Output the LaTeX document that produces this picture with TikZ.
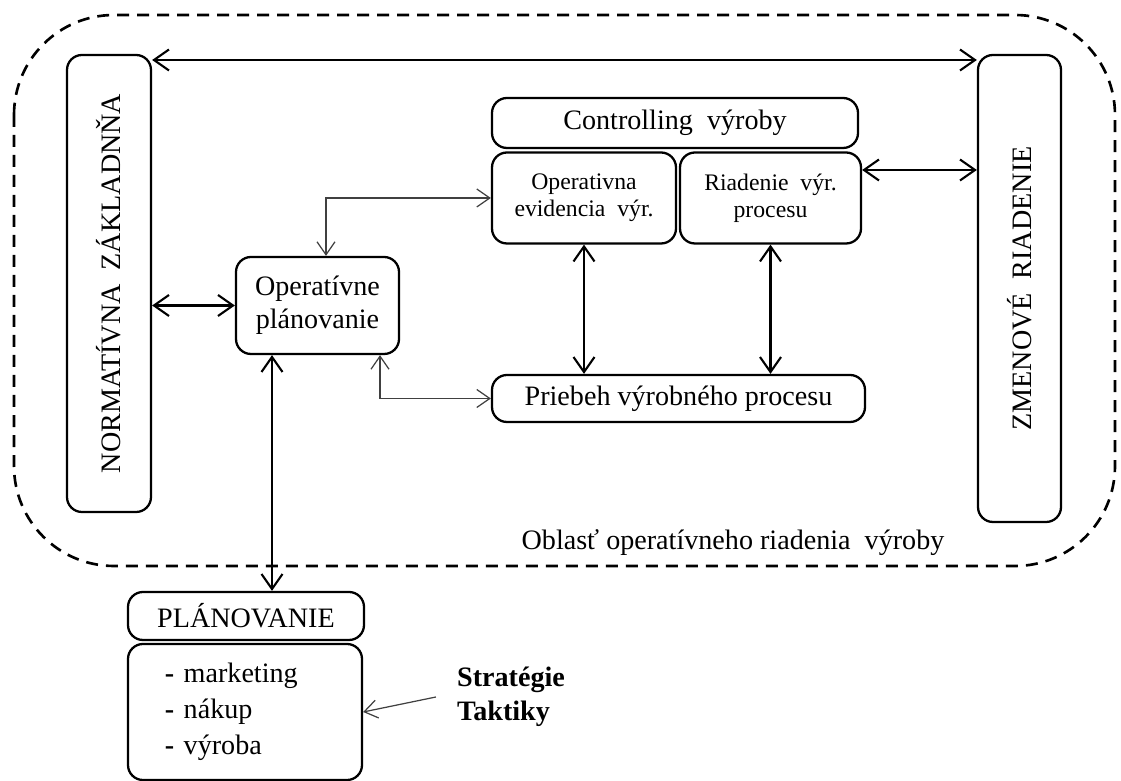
\documentclass[tikz,border=0pt]{standalone}
\usepackage{fontspec}
\setmainfont{Liberation Serif}
\usetikzlibrary{arrows.meta}

\begin{document}
\begin{tikzpicture}[x=0.2mm,y=-0.2mm,
  blok/.style={draw,line width=1.3pt,rounded corners=3mm,align=center,inner sep=0pt,font=\fontsize{16}{19}\selectfont},
  dbl/.style={{Straight Barb[length=3mm,width=4.2mm]}-{Straight Barb[length=3mm,width=4.2mm]},line width=1.2pt},
  tenka/.style={{Straight Barb[length=2.6mm,width=3.6mm]}-{Straight Barb[length=2.6mm,width=3.6mm]},line width=0.7pt,black!75}]
\useasboundingbox (0,0) rectangle (1121,781);
% oblast
\draw[line width=1.5pt,dash pattern=on 2.4mm off 1.6mm,rounded corners=20mm] (14,15) rectangle (1115,566);
\node[font=\fontsize{16}{19}\selectfont] (oblast) at (733,543) {Oblasť operatívneho riadenia\ \ výroby};
% bloky
\node[blok,minimum width=16.8mm,minimum height=91.4mm] (norm) at (109,283.5) {};
\node[rotate=90,font=\fontsize{16}{19}\selectfont] (normtxt) at (norm.center) {NORMATÍVNA\ \ ZÁKLADNŇA};
\node[blok,minimum width=16.6mm,minimum height=93.4mm] (zmen) at (1019.5,288.5) {};
\node[rotate=90,font=\fontsize{16}{19}\selectfont] (zmentxt) at (zmen.center) {ZMENOVÉ\ \ RIADENIE};
\node[blok,minimum width=73.2mm,minimum height=10mm] (ctrl) at (675,123) {Controlling\ \ výroby};
\node[blok,minimum width=36.8mm,minimum height=18.2mm,font=\fontsize{13.5}{15.5}\selectfont] (evid) at (584,198) {Operativna\\evidencia\ \ výr.};
\node[blok,minimum width=36.2mm,minimum height=18.2mm,font=\fontsize{13.5}{15.5}\selectfont] (riad) at (770.5,198) {Riadenie\ \ výr.\\procesu};
\node[blok,minimum width=32.6mm,minimum height=19.4mm,font=\fontsize{16}{18.7}\selectfont] (oplan) at (317.5,305.5) {Operatívne\\plánovanie};
\node[blok,minimum width=74.6mm,minimum height=9.4mm] (prieb) at (678.5,398.5) {Priebeh výrobného procesu};
\node[blok,minimum width=47.2mm,minimum height=9.6mm] (plan) at (246,616) {PLÁNOVANIE};
\node[blok,minimum width=46.8mm,minimum height=27.2mm,align=left,text width=32mm,inner xsep=7.4mm,font=\fontsize{16}{20.4}\selectfont] (zoznam) at (245,712) {\textbf{-} marketing\\\textbf{-} nákup\\\textbf{-} výroba};
\node[font=\bfseries\fontsize{16}{19.5}\selectfont,align=left] (strat) at (511,697) {Stratégie\\Taktiky};
% spojenia
\draw[dbl] (norm.east |- 0,60) -- (zmen.west |- 0,60);
\draw[dbl] (riad.east |- 0,170) -- (zmen.west |- 0,170);
\draw[dbl] (norm.east |- oplan.west) -- (oplan.west);
\draw[dbl] (evid.south) -- (evid.south |- prieb.north);
\draw[dbl] (riad.south) -- (riad.south |- prieb.north);
\draw[dbl] ([xshift=-9.1mm]oplan.south) -- ([xshift=-9.1mm]oplan.south |- plan.north);
\draw[tenka] ([xshift=1.7mm]oplan.north) |- (evid.west);
\draw[tenka] ([xshift=12.5mm]oplan.south) |- (prieb.west);
\draw[tenka,{Straight Barb[length=2.6mm,width=3.6mm]}-] (zoznam.east) -- ([xshift=-3mm]strat.west);
\end{tikzpicture}
\end{document}
